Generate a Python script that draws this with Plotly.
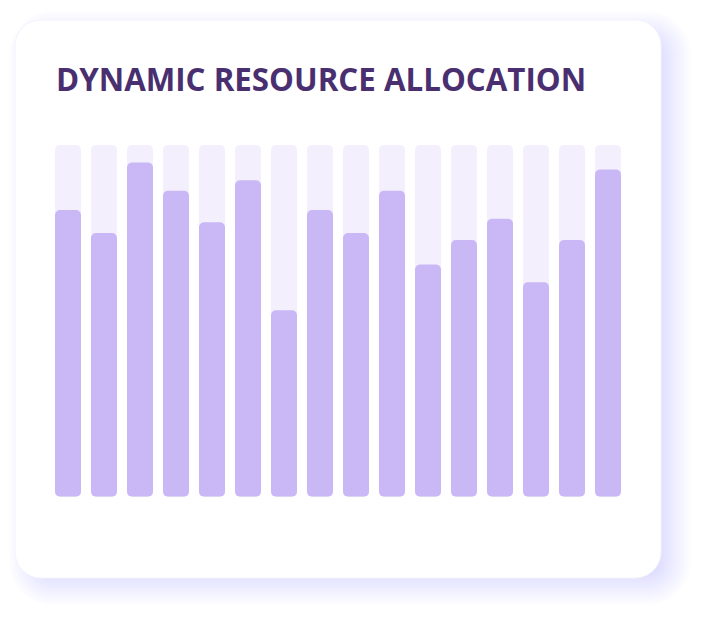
import plotly.graph_objects as go

# ---- data ----
slots = [f"S{i+1}" for i in range(16)]
allocation = [81.5, 75, 95, 87, 78, 90, 53, 81.5, 75, 87, 66, 73, 79, 61, 73, 93]
capacity = [100] * 16
title_text = "DYNAMIC RESOURCE ALLOCATION"

W, H = 706, 618
OFF = 8  # page body margin compensation
BAR_COLOR = "#c9b8f5"
TRACK_COLOR = "#f3effc"
RADIUS = 5


def px_x(v):
    return (v - OFF) / W


def px_y(v):
    return 1 - (v - OFF) / H


def rrect(x0, y0, x1, y1, r):
    k = 0.45
    X = px_x
    Y = px_y
    r = max(r, 0.5)
    return (f"M {X(x0 + r)},{Y(y0)} L {X(x1 - r)},{Y(y0)} "
            f"C {X(x1 - r * k)},{Y(y0)} {X(x1)},{Y(y0 + r * k)} {X(x1)},{Y(y0 + r)} "
            f"L {X(x1)},{Y(y1 - r)} "
            f"C {X(x1)},{Y(y1 - r * k)} {X(x1 - r * k)},{Y(y1)} {X(x1 - r)},{Y(y1)} "
            f"L {X(x0 + r)},{Y(y1)} "
            f"C {X(x0 + r * k)},{Y(y1)} {X(x0)},{Y(y1 - r * k)} {X(x0)},{Y(y1 - r)} "
            f"L {X(x0)},{Y(y0 + r)} "
            f"C {X(x0)},{Y(y0 + r * k)} {X(x0 + r * k)},{Y(y0)} {X(x0 + r)},{Y(y0)} Z")


shapes = []
cx0, cy0, cx1, cy1 = 15, 20, 661, 578
ox, oy = 12, 9
for s in range(18, -19, -2):
    shapes.append(dict(
        type="path", xref="paper", yref="paper", layer="below",
        path=rrect(cx0 + ox - s, cy0 + oy - s, cx1 + ox + s, cy1 + oy + s, 26 + s),
        fillcolor="rgba(125,105,235,0.013)", line=dict(width=0),
    ))
shapes.append(dict(
    type="path", xref="paper", yref="paper", layer="below",
    path=rrect(cx0, cy0, cx1, cy1, 26),
    fillcolor="#ffffff", line=dict(width=1, color="#f5f2fd"),
))

fig = go.Figure()
eps = 3.0
half_cap = [c / 2 for c in capacity]
half = [v / 2 for v in allocation]
common = dict(offsetgroup="a", hoverinfo="skip")
# track bars, built from two halves so both ends are rounded
fig.add_trace(go.Bar(x=slots, y=half_cap, base=half_cap,
                     marker=dict(color=TRACK_COLOR, opacity=1, line=dict(width=0), cornerradius=RADIUS),
                     **common))
fig.add_trace(go.Bar(x=slots, y=[-(h + eps) for h in half_cap], base=[h + eps for h in half_cap],
                     marker=dict(color=TRACK_COLOR, opacity=1, line=dict(width=0), cornerradius=RADIUS),
                     **common))
# allocation bars
fig.add_trace(go.Bar(x=slots, y=half, base=half,
                     marker=dict(color=BAR_COLOR, opacity=1, line=dict(width=0), cornerradius=RADIUS),
                     **common))
fig.add_trace(go.Bar(x=slots, y=[-(h + eps) for h in half], base=[h + eps for h in half],
                     marker=dict(color=BAR_COLOR, opacity=1, line=dict(width=0), cornerradius=RADIUS),
                     **common))

fig.update_layout(
    width=W, height=H,
    margin=dict(l=0, r=0, t=0, b=0),
    paper_bgcolor="#ffffff", plot_bgcolor="rgba(0,0,0,0)",
    barmode="overlay", bargap=10 / 36,
    showlegend=False,
    shapes=shapes,
    xaxis=dict(domain=[(50 - OFF) / W, (626 - OFF) / W], range=[-0.5, 15.5], visible=False, fixedrange=True),
    yaxis=dict(domain=[1 - (496.7 - OFF) / H, 1 - (145 - OFF) / H], range=[0, 100], visible=False, fixedrange=True),
    annotations=[dict(
        text=f"<b>{title_text}</b>", xref="paper", yref="paper",
        x=px_x(54), y=px_y(79.5), xanchor="left", yanchor="middle", showarrow=False,
        font=dict(family="Open Sans, sans-serif", size=31.3, color="#4a2f70"),
    )],
)

fig.write_html("out.html")
